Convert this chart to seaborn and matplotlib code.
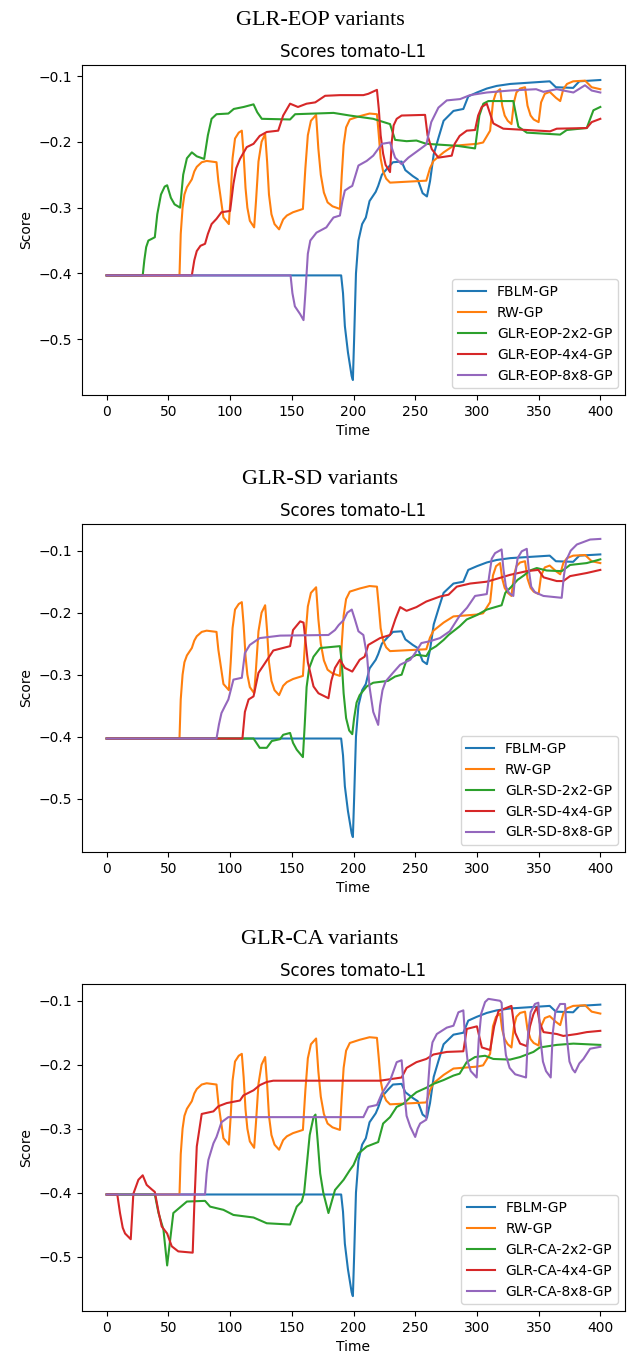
import matplotlib
matplotlib.use("Agg")
import matplotlib.pyplot as plt
import seaborn as sns
import pandas as pd

# shared baselines (same in every panel)
FBLM_T = [0, 190, 191.5, 193, 195.5, 198.5, 199.5, 200.5, 202, 204, 207, 210, 213, 218, 220, 223, 228, 232,
          239, 242, 248, 252, 256, 259.5, 262, 265, 269, 273, 281, 289, 293, 300, 308, 316, 327, 343, 359,
          364, 378, 383, 400]
FBLM_Y = [-0.403, -0.403, -0.43, -0.48, -0.52, -0.556, -0.562, -0.50, -0.40, -0.35, -0.325, -0.315, -0.29,
          -0.276, -0.267, -0.250, -0.239, -0.231, -0.230, -0.243, -0.252, -0.257, -0.278, -0.283, -0.26,
          -0.219, -0.193, -0.168, -0.153, -0.150, -0.131, -0.125, -0.119, -0.115, -0.112, -0.110, -0.108,
          -0.117, -0.118, -0.108, -0.106]

RW_T = [0, 59, 60, 61.5, 63, 65, 69, 71, 73, 77, 81, 89, 90.5, 92, 94.6, 99, 100.5, 102, 104, 107, 109.5, 111,
        112.5, 114, 116, 119.5, 121, 123, 125.5, 128.4, 130, 131.5, 133.5, 136, 139.7, 143, 146, 151, 159, 161,
        163, 165.5, 169.7, 171.5, 173.5, 176, 179, 183, 189, 190.5, 192, 194, 197, 205, 213, 219, 220.5, 222,
        224, 226.5, 229.6, 259, 262, 264.8, 273, 281, 300, 305, 310.7, 313, 315.5, 318.8, 320.5, 322.5, 325,
        328, 330, 332, 335, 339, 341, 343.5, 346, 350, 352, 355, 359, 364, 367.5, 370, 373, 378, 387.7, 393,
        400]
RW_Y = [-0.403, -0.403, -0.34, -0.30, -0.28, -0.269, -0.257, -0.245, -0.238, -0.231, -0.229, -0.231, -0.26,
        -0.28, -0.315, -0.325, -0.28, -0.225, -0.195, -0.186, -0.183, -0.22, -0.27, -0.30, -0.320, -0.330,
        -0.29, -0.23, -0.20, -0.188, -0.23, -0.28, -0.31, -0.325, -0.333, -0.318, -0.312, -0.307, -0.302,
        -0.24, -0.19, -0.168, -0.159, -0.21, -0.25, -0.277, -0.292, -0.298, -0.302, -0.25, -0.205, -0.178,
        -0.166, -0.161, -0.157, -0.158, -0.19, -0.225, -0.245, -0.256, -0.262, -0.259, -0.24, -0.229, -0.216,
        -0.206, -0.203, -0.201, -0.183, -0.14, -0.125, -0.120, -0.145, -0.16, -0.168, -0.173, -0.14, -0.125,
        -0.119, -0.117, -0.145, -0.16, -0.166, -0.170, -0.14, -0.127, -0.124, -0.133, -0.138, -0.12, -0.112,
        -0.108, -0.107, -0.117, -0.120]

# GLR-EOP variants
EOP2_T = [0, 29.2, 30.5, 32, 33.8, 37, 39, 41, 44, 47, 49, 52, 55, 59.5, 62, 65, 69, 73, 79, 82, 85, 89, 98.6,
          103, 111, 119, 122, 125.7, 148.6, 152.7, 183.8, 197, 216, 229.6, 233.7, 243, 251, 259, 283.7, 298.5,
          302, 305.2, 309.3, 329.5, 333.6, 340.4, 367.4, 372.8, 389, 394.4, 400]
EOP2_Y = [-0.403, -0.403, -0.38, -0.36, -0.350, -0.347, -0.345, -0.31, -0.28, -0.268, -0.266, -0.285, -0.295,
          -0.300, -0.25, -0.225, -0.216, -0.222, -0.226, -0.19, -0.165, -0.158, -0.157, -0.150, -0.147, -0.143,
          -0.155, -0.165, -0.166, -0.158, -0.156, -0.160, -0.165, -0.173, -0.197, -0.199, -0.198, -0.203,
          -0.206, -0.210, -0.16, -0.142, -0.138, -0.138, -0.177, -0.186, -0.189, -0.182, -0.179, -0.152, -0.147]

EOP4_T = [0, 69, 71, 73, 76, 79.7, 82, 85, 89, 93, 100, 102.7, 105, 108, 113.5, 119, 124, 129.7, 139, 143,
          148.6, 155, 162, 169, 177, 189, 208, 212, 219, 220.5, 222, 224, 226, 229.6, 231, 232.5, 235, 239, 258,
          260, 263.4, 268.8, 279.6, 282, 286, 291.8, 298.5, 301, 303.9, 308, 313.3, 321.4, 340.4, 359.3, 364.7,
          389, 393, 400]
EOP4_Y = [-0.403, -0.403, -0.38, -0.366, -0.358, -0.355, -0.34, -0.325, -0.317, -0.307, -0.305, -0.264, -0.24,
          -0.226, -0.208, -0.203, -0.191, -0.185, -0.183, -0.160, -0.142, -0.147, -0.142, -0.140, -0.130,
          -0.129, -0.129, -0.127, -0.121, -0.15, -0.19, -0.218, -0.235, -0.246, -0.20, -0.175, -0.165, -0.160,
          -0.159, -0.19, -0.211, -0.224, -0.221, -0.203, -0.191, -0.183, -0.182, -0.16, -0.147, -0.142, -0.172,
          -0.180, -0.182, -0.184, -0.180, -0.179, -0.170, -0.165]

EOP8_T = [0, 149, 150.5, 152.5, 156.8, 159.5, 161, 163, 165, 170, 178, 181, 183.8, 189, 191, 193, 197, 199, 204,
          210.7, 216, 223, 229.6, 233.7, 239, 244.5, 254, 259, 263, 268.8, 275.6, 286.4, 294.4, 308, 326.8, 348,
          353.9, 364.7, 378.2, 387.6, 393, 400]
EOP8_Y = [-0.403, -0.403, -0.43, -0.45, -0.462, -0.471, -0.43, -0.37, -0.350, -0.338, -0.330, -0.322, -0.315,
          -0.312, -0.29, -0.274, -0.269, -0.267, -0.236, -0.229, -0.221, -0.203, -0.201, -0.224, -0.234, -0.224,
          -0.211, -0.204, -0.170, -0.148, -0.137, -0.135, -0.129, -0.125, -0.122, -0.120, -0.124, -0.120,
          -0.125, -0.114, -0.122, -0.125]

# GLR-SD variants
SD2_T = [0, 119, 122, 124, 129.7, 133.8, 140.5, 143, 148.6, 151, 154, 159, 160.5, 162, 164, 167.6, 173, 189,
         190.5, 192, 194, 196.5, 199, 200.5, 202.5, 205, 210.7, 216, 228, 233.7, 239, 243, 251, 259, 262, 267,
         273, 277, 286, 291.7, 299.8, 308, 320, 323, 328, 333, 338, 343, 348.5, 356.6, 368.7, 375.5, 389, 400]
SD2_Y = [-0.403, -0.403, -0.412, -0.418, -0.418, -0.407, -0.404, -0.397, -0.394, -0.41, -0.421, -0.433, -0.38,
         -0.32, -0.29, -0.271, -0.257, -0.254, -0.28, -0.33, -0.37, -0.39, -0.396, -0.37, -0.345, -0.333,
         -0.319, -0.313, -0.310, -0.303, -0.300, -0.276, -0.268, -0.270, -0.260, -0.254, -0.244, -0.236,
         -0.222, -0.211, -0.204, -0.195, -0.188, -0.168, -0.158, -0.147, -0.140, -0.132, -0.128, -0.132,
         -0.133, -0.123, -0.120, -0.114]

SD4_T = [0, 110, 112, 115, 119, 123, 128.4, 135, 148.6, 151, 156.8, 159.5, 163, 167.6, 171.6, 179.7, 182, 185,
         189, 193, 199, 205, 209, 212, 221.5, 229.6, 234, 237.8, 243, 251, 259, 270, 277, 283.7, 294.5, 308,
         313.3, 326.8, 340.4, 349.8, 354, 364.7, 370, 375.5, 389, 400]
SD4_Y = [-0.403, -0.403, -0.36, -0.340, -0.335, -0.297, -0.281, -0.261, -0.254, -0.228, -0.214, -0.216, -0.28,
         -0.319, -0.330, -0.338, -0.31, -0.289, -0.276, -0.289, -0.295, -0.276, -0.271, -0.252, -0.241, -0.236,
         -0.21, -0.191, -0.197, -0.191, -0.182, -0.174, -0.171, -0.158, -0.153, -0.150, -0.147, -0.139, -0.133,
         -0.131, -0.143, -0.149, -0.149, -0.141, -0.136, -0.131]

SD8_T = [0, 89, 91, 93, 96, 98.6, 102.7, 109.5, 112, 116, 124, 140.5, 179.7, 185, 188, 192, 195, 198.6, 201,
         204, 208, 211, 213, 216, 220, 221.5, 223.5, 226, 232, 237.8, 246, 250, 255, 262, 270, 278, 286, 292,
         298.5, 308, 310, 312, 314.7, 320, 321.5, 323.5, 326, 329.5, 331, 333, 336.3, 340.4, 342, 344, 347,
         353.9, 368.7, 370.5, 372.5, 376, 381, 391.7, 400]
SD8_Y = [-0.403, -0.403, -0.38, -0.362, -0.35, -0.340, -0.308, -0.305, -0.265, -0.252, -0.241, -0.237, -0.236,
         -0.228, -0.220, -0.212, -0.200, -0.195, -0.21, -0.230, -0.236, -0.27, -0.32, -0.36, -0.381, -0.35,
         -0.325, -0.311, -0.297, -0.284, -0.276, -0.265, -0.249, -0.246, -0.241, -0.230, -0.205, -0.192,
         -0.173, -0.170, -0.14, -0.113, -0.104, -0.098, -0.13, -0.158, -0.168, -0.173, -0.14, -0.112, -0.101,
         -0.097, -0.13, -0.158, -0.167, -0.173, -0.176, -0.14, -0.115, -0.100, -0.090, -0.082, -0.081]

# GLR-CA variants
CA2_T = [0, 39, 42, 46, 49, 54, 65, 79.7, 83.8, 94.6, 102.7, 119, 129.7, 148.6, 154, 158, 160, 162, 164.5,
         167.6, 169.2, 171, 173, 175.5, 179.7, 185, 192, 197, 200, 204, 210.7, 220, 224, 229.6, 235, 240.5, 246,
         251, 259, 264.8, 273, 281, 286, 291.7, 298.5, 306.6, 313.3, 326.8, 335, 345.8, 351, 364.7, 378.2, 400]
CA2_Y = [-0.403, -0.403, -0.432, -0.458, -0.514, -0.432, -0.414, -0.413, -0.422, -0.427, -0.435, -0.439,
         -0.448, -0.450, -0.422, -0.414, -0.40, -0.36, -0.31, -0.282, -0.278, -0.32, -0.37, -0.40, -0.432,
         -0.396, -0.380, -0.365, -0.357, -0.339, -0.328, -0.321, -0.292, -0.282, -0.266, -0.261, -0.251,
         -0.243, -0.236, -0.230, -0.224, -0.217, -0.214, -0.196, -0.188, -0.186, -0.191, -0.192, -0.188,
         -0.180, -0.173, -0.169, -0.167, -0.169]

CA4_T = [0, 8.6, 10.8, 13, 14.9, 19.5, 21.6, 25.7, 29.2, 32.4, 36.5, 39, 42, 44.6, 49, 52.7, 58, 69.7, 71, 73,
         77, 86.5, 90.5, 97.3, 108, 110.8, 119, 124, 129.7, 135, 221.5, 239, 243, 251, 259, 264.8, 275.6, 289,
         291.8, 300, 304, 310.7, 314, 317.5, 328, 331, 335, 340.5, 343, 345.8, 348.6, 351, 354, 364.8, 370,
         381, 389, 400]
CA4_Y = [-0.403, -0.403, -0.432, -0.455, -0.464, -0.473, -0.402, -0.380, -0.373, -0.388, -0.395, -0.399, -0.43,
         -0.453, -0.464, -0.484, -0.492, -0.494, -0.42, -0.328, -0.277, -0.273, -0.265, -0.260, -0.256, -0.248,
         -0.240, -0.232, -0.227, -0.225, -0.225, -0.220, -0.205, -0.196, -0.191, -0.184, -0.180, -0.179,
         -0.144, -0.140, -0.173, -0.177, -0.14, -0.116, -0.108, -0.15, -0.167, -0.171, -0.14, -0.121, -0.110,
         -0.135, -0.149, -0.152, -0.155, -0.152, -0.149, -0.147]

CA8_T = [0, 79.7, 81, 82.4, 86.5, 89, 93, 98.6, 208, 212, 219, 223, 229.6, 235, 239, 241, 243, 246, 250, 252,
         254, 259, 260.5, 262, 264, 267.5, 275.6, 281, 285, 289, 290.5, 292.5, 295, 299.8, 301.5, 303.5, 306.6,
         309.3, 318.7, 320, 321.5, 323.5, 326.5, 331, 339.8, 341.5, 343.5, 347, 349.8, 351.5, 353.5, 356, 359.8,
         361.5, 363.5, 367.4, 371.4, 373, 375, 377.5, 379.5, 383, 386.3, 391.7, 400]
CA8_Y = [-0.403, -0.403, -0.37, -0.349, -0.323, -0.313, -0.290, -0.282, -0.282, -0.266, -0.263, -0.245, -0.225,
         -0.196, -0.193, -0.24, -0.28, -0.297, -0.313, -0.30, -0.292, -0.286, -0.23, -0.19, -0.165, -0.152,
         -0.142, -0.139, -0.118, -0.115, -0.16, -0.195, -0.21, -0.220, -0.16, -0.12, -0.102, -0.097, -0.100,
         -0.103, -0.15, -0.185, -0.205, -0.215, -0.220, -0.15, -0.118, -0.105, -0.103, -0.16, -0.195, -0.21,
         -0.220, -0.15, -0.118, -0.105, -0.105, -0.16, -0.195, -0.207, -0.212, -0.198, -0.191, -0.175, -0.172]

PANELS = [
    ("GLR-EOP variants", "EOP", [(EOP2_T, EOP2_Y), (EOP4_T, EOP4_Y), (EOP8_T, EOP8_Y)]),
    ("GLR-SD variants", "SD", [(SD2_T, SD2_Y), (SD4_T, SD4_Y), (SD8_T, SD8_Y)]),
    ("GLR-CA variants", "CA", [(CA2_T, CA2_Y), (CA4_T, CA4_Y), (CA8_T, CA8_Y)]),
]
GRIDS = ["2x2", "4x4", "8x8"]

colors = sns.color_palette("tab10", 5)

W, H = 628, 1354
fig = plt.figure(figsize=(W / 100, H / 100), dpi=100)

# axes boxes in pixels: (top, bottom)
boxes = [(65, 395), (524, 852), (984, 1311)]
left_px, right_px = 82, 625

for (section, key, variants), (top, bot) in zip(PANELS, boxes):
    ax = fig.add_axes([left_px / W, 1 - bot / H, (right_px - left_px) / W, (bot - top) / H])

    series = [("FBLM-GP", FBLM_T, FBLM_Y), ("RW-GP", RW_T, RW_Y)]
    for g, (t, y) in zip(GRIDS, variants):
        series.append((f"GLR-{key}-{g}-GP", t, y))

    for (name, t, y), c in zip(series, colors):
        df = pd.DataFrame({"Time": t, "Score": y})
        sns.lineplot(data=df, x="Time", y="Score", ax=ax, color=c, label=name,
                     estimator=None, sort=False, linewidth=1.5)

    ax.set_title("Scores tomato-L1", fontsize=12)
    ax.set_xlabel("Time")
    ax.set_ylabel("Score")
    ax.set_xticks(range(0, 401, 50))
    ax.legend(loc="lower right", fontsize=10)

    fig.text(320 / W, 1 - (top - 40) / H, section, ha="center", va="baseline",
             fontsize=16, family=["Liberation Serif", "DejaVu Serif"])

fig.savefig("out.png", dpi=100)
